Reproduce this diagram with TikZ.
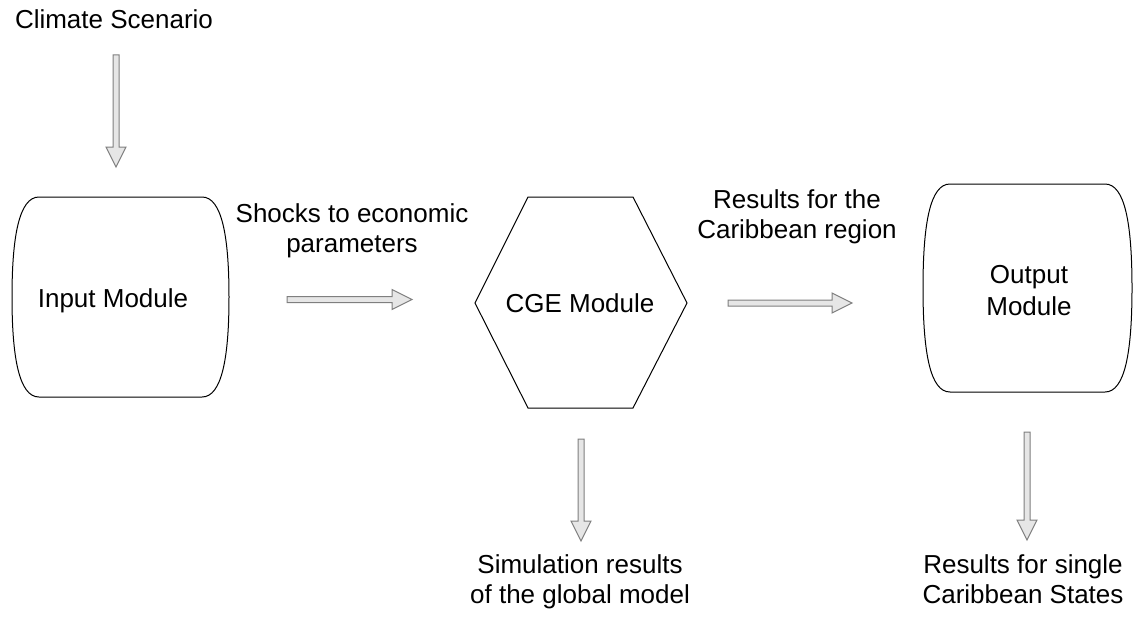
\documentclass[tikz,border=0pt]{standalone}
\usepackage{fontspec}
\setmainfont{Liberation Sans}
\usetikzlibrary{calc}

\definecolor{arrowline}{HTML}{7F7F7F}
\definecolor{arrowfill}{HTML}{E6E6E6}

\tikzset{
    lbl/.style={font=\fontsize{26}{30}\selectfont, align=center, inner sep=0pt, anchor=base},
    module/.style={draw=black, line width=1pt},
    fatright/.style={draw=arrowline, fill=arrowfill, line width=1pt, line join=miter,
        to path={([yshift=3pt]\tikztostart) -- ([xshift=-20pt, yshift=3pt]\tikztotarget)
            -- ([xshift=-20pt, yshift=10pt]\tikztotarget) -- (\tikztotarget)
            -- ([xshift=-20pt, yshift=-10pt]\tikztotarget) -- ([xshift=-20pt, yshift=-3pt]\tikztotarget)
            -- ([yshift=-3pt]\tikztostart) -- cycle}},
    fatdown/.style={draw=arrowline, fill=arrowfill, line width=1pt, line join=miter,
        to path={([xshift=-3pt]\tikztostart) -- ([xshift=-3pt, yshift=20pt]\tikztotarget)
            -- ([xshift=-10pt, yshift=20pt]\tikztotarget) -- (\tikztotarget)
            -- ([xshift=10pt, yshift=20pt]\tikztotarget) -- ([xshift=3pt, yshift=20pt]\tikztotarget)
            -- ([xshift=3pt]\tikztostart) -- cycle}},
}

% barrel outline: left, top, right, bottom
\newcommand\barrel[4]{%
    \draw[module] ({#1+27},#2) -- ({#3-27},#2)
        .. controls ({#3-7},#2) and (#3,{#2+40}) .. (#3,{(#2+#4)/2})
        .. controls (#3,{#4-40}) and ({#3-7},#4) .. ({#3-27},#4)
        -- ({#1+27},#4)
        .. controls ({#1+7},#4) and (#1,{#4-40}) .. (#1,{(#2+#4)/2})
        .. controls (#1,{#2+40}) and ({#1+7},#2) .. ({#1+27},#2) -- cycle;}

\begin{document}
\begin{tikzpicture}[x=1pt, y=-1pt]
\useasboundingbox (0,0) rectangle (1137,618);

% modules
\barrel{12}{197}{229}{397}
\node[lbl] (input) at (113,307) {Input Module};

\draw[module] (475,303) -- (528,197) -- (633,197) -- (687,303) -- (633,408) -- (528,408) -- cycle;
\node[lbl] (cge) at (580,312) {CGE Module};

\barrel{923}{184}{1132}{392}
\node[lbl] (output) at (1029,315) {Output\\[2pt]Module};

% texts (base = last line)
\node[lbl] (climate) at (114,29) {Climate Scenario};
\node[lbl] (shocks) at (352,252) {Shocks to economic\\parameters};
\node[lbl] (region) at (797,238) {Results for the\\Caribbean region};
\node[lbl] (global) at (580,603) {Simulation results\\of the global model};
\node[lbl] (states) at (1023,603) {Results for single\\Caribbean States};

% arrows
\coordinate (a1s) at (116,55);   \coordinate (a1e) at (116,167);
\coordinate (a2s) at (287,299.5); \coordinate (a2e) at (412,299.5);
\coordinate (a3s) at (728,303);  \coordinate (a3e) at (852,303);
\coordinate (a4s) at (581,439);  \coordinate (a4e) at (581,541);
\coordinate (a5s) at (1027,432); \coordinate (a5e) at (1027,540);

\draw[fatdown] (a1s) to (a1e);
\draw[fatright] (a2s) to (a2e);
\draw[fatright] (a3s) to (a3e);
\draw[fatdown] (a4s) to (a4e);
\draw[fatdown] (a5s) to (a5e);

\end{tikzpicture}
\end{document}
